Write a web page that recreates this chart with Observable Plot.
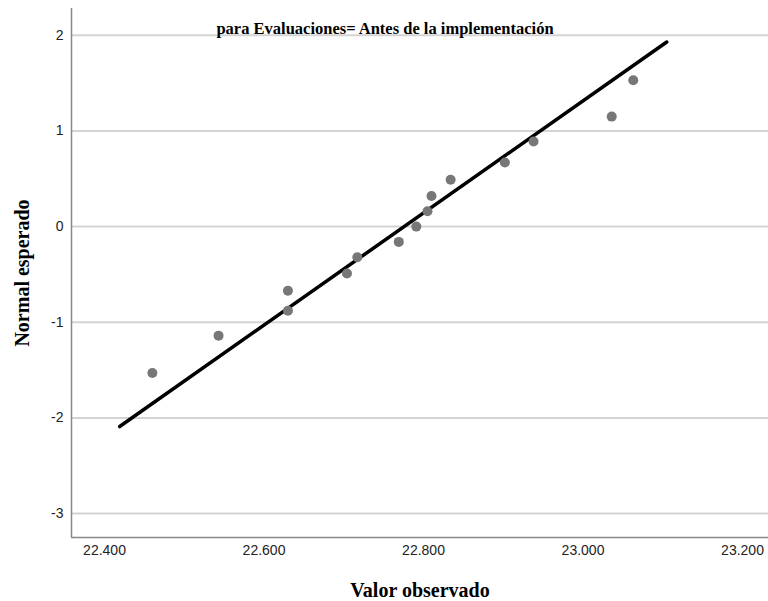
<!DOCTYPE html>
<html>
<head>
<meta charset="utf-8">
<script src="https://cdn.jsdelivr.net/npm/d3@7"></script>
<script src="https://cdn.jsdelivr.net/npm/@observablehq/plot@0.6"></script>
<style>
  html, body { margin: 0; padding: 0; background: #fff; }
</style>
</head>
<body>
<div id="chart"></div>
<script>
const observed = [22460, 22543, 22630, 22630, 22704, 22717, 22769, 22791, 22805, 22810, 22834, 22902, 22938, 23036, 23063];
const expected = [-1.53, -1.14, -0.88, -0.67, -0.49, -0.32, -0.16, 0, 0.16, 0.32, 0.49, 0.67, 0.89, 1.15, 1.53];
// Reference (normal) line end points
const lineObserved = [22419, 23105];
const lineExpected = [-2.09, 1.93];
// Ticks
const xTicks = [22400, 22600, 22800, 23000, 23200];
const yTicks = [-3, -2, -1, 0, 1, 2];
const xDomain = [22358.6, 23232.6];
const yDomain = [-3.25, 2.28];

const titleText = "para Evaluaciones= Antes de la implementación";
const xLabel = "Valor observado";
const yLabel = "Normal esperado";

const esLocale = d3.formatLocale({decimal: ",", thousands: ".", grouping: [3], currency: ["", "€"], minus: "-"});
const fmtX = esLocale.format(",d");
const fmtY = esLocale.format("d");

const points = observed.map((x, i) => ({x, y: expected[i]}));
const refLine = lineObserved.map((x, i) => ({x, y: lineExpected[i]}));

const serif = "'Liberation Serif', 'Times New Roman', serif";

const chart = Plot.plot({
  width: 768,
  height: 601,
  marginLeft: 71,
  marginRight: 0,
  marginTop: 8,
  marginBottom: 64,
  style: {fontFamily: "'Liberation Sans', Arial, sans-serif", fontSize: "14px", color: "#222", background: "#fff"},
  x: {domain: xDomain, ticks: xTicks, tickFormat: fmtX, tickSize: 0, tickPadding: 8, label: null},
  y: {domain: yDomain, ticks: yTicks, tickFormat: fmtY, tickSize: 0, tickPadding: 8, label: null},
  marks: [
    Plot.gridY(yTicks, {stroke: "#d4d4d4", strokeOpacity: 1, strokeWidth: 2}),
    Plot.ruleX([xDomain[0]], {stroke: "#888", strokeWidth: 1.5}),
    Plot.ruleY([yDomain[0]], {stroke: "#888", strokeWidth: 1.5}),
    Plot.line(refLine, {x: "x", y: "y", stroke: "#000", strokeWidth: 3.5}),
    Plot.dot(points, {x: "x", y: "y", r: 5, fill: "#777", stroke: "none"}),
    Plot.text([titleText], {frameAnchor: "top", textAnchor: "middle", lineAnchor: "middle", dx: -35, dy: 20, fontFamily: serif, fontWeight: "bold", fontSize: 16.5, fill: "#000"}),
    Plot.text([yLabel], {frameAnchor: "left", textAnchor: "middle", lineAnchor: "middle", rotate: -90, dx: -49, fontFamily: serif, fontWeight: "bold", fontSize: 20, fill: "#000"}),
    Plot.text([xLabel], {frameAnchor: "bottom", textAnchor: "middle", lineAnchor: "middle", dy: 53, fontFamily: serif, fontWeight: "bold", fontSize: 20, fill: "#000"})
  ]
});
document.getElementById("chart").appendChild(chart);
</script>
</body>
</html>
